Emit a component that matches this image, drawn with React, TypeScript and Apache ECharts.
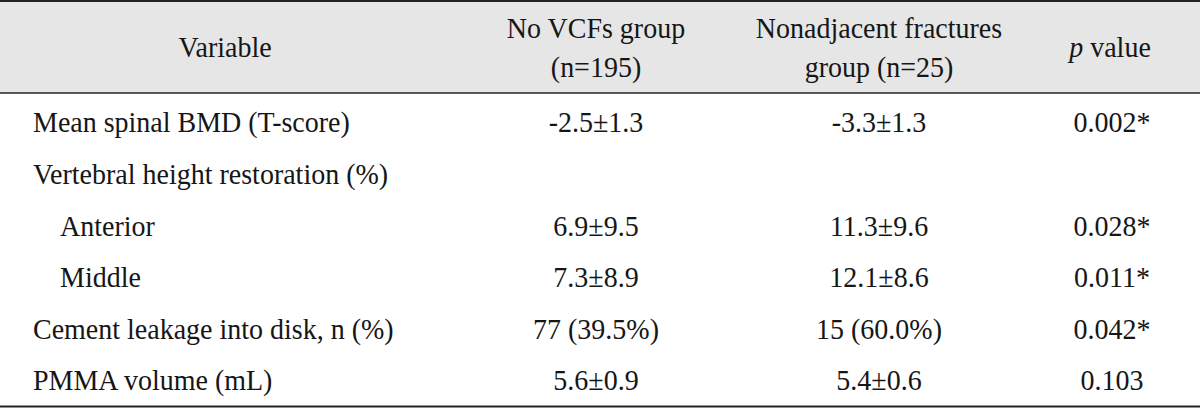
import React, { useEffect, useRef } from "react";
import * as echarts from "echarts";

const headerCol1 = "Variable";
const headerCol2 = ["No VCFs group", "(n=195)"];
const headerCol3 = ["Nonadjacent fractures", "group (n=25)"];
const variables = [
  "Mean spinal BMD (T-score)",
  "Vertebral height restoration (%)",
  "Anterior",
  "Middle",
  "Cement leakage into disk, n (%)",
  "PMMA volume (mL)",
];
const indented = [false, false, true, true, false, false];
const noVcfsGroup = ["-2.5±1.3", "", "6.9±9.5", "7.3±8.9", "77 (39.5%)", "5.6±0.9"];
const nonadjacentGroup = ["-3.3±1.3", "", "11.3±9.6", "12.1±8.6", "15 (60.0%)", "5.4±0.6"];
const pValues = ["0.002*", "", "0.028*", "0.011*", "0.042*", "0.103"];

const FONT = "'Liberation Serif', 'Times New Roman', serif";
const COLOR = "#161616";

export default function App() {
  const ref = useRef<HTMLDivElement>(null);
  useEffect(() => {
    if (!ref.current) return;
    const chart = echarts.init(ref.current, null, { renderer: "svg" });
    const fs = 28;
    const sy = 1.08;
    const txt = (text: string, x: number, y: number, align: string, extra: any = {}) => ({
      type: "text",
      x,
      y,
      scaleY: sy,
      style: {
        text,
        fill: COLOR,
        font: `${fs}px ${FONT}`,
        textAlign: align,
        textVerticalAlign: "middle",
        ...extra,
      },
    });
    const els: any[] = [];
    els.push({ type: "rect", shape: { x: 0, y: 0, width: 1200, height: 93 }, style: { fill: "#e6e6e6" } });
    els.push({ type: "line", shape: { x1: 0, y1: 1, x2: 1200, y2: 1 }, style: { stroke: "#222", lineWidth: 2 } });
    els.push({ type: "line", shape: { x1: 0, y1: 93, x2: 1200, y2: 93 }, style: { stroke: "#222", lineWidth: 1.5 } });
    els.push({ type: "line", shape: { x1: 0, y1: 406.5, x2: 1200, y2: 406.5 }, style: { stroke: "#222", lineWidth: 2 } });

    const c1 = 225, c2 = 596, c3 = 879, c4 = 1110;
    els.push(txt(headerCol1, c1, 47, "center"));
    els.push(txt(headerCol2[0], c2, 28, "center"));
    els.push(txt(headerCol2[1], c2, 67, "center"));
    els.push(txt(headerCol3[0], c3, 28, "center"));
    els.push(txt(headerCol3[1], c3, 67, "center"));
    els.push({
      type: "text",
      x: c4,
      y: 47,
      scaleY: sy,
      style: {
        text: "{i|p} value",
        fill: COLOR,
        font: `${fs}px ${FONT}`,
        textAlign: "center",
        textVerticalAlign: "middle",
        rich: {
          i: { fontStyle: "italic", fontSize: fs, fontFamily: FONT, fill: COLOR },
        },
      },
    });

    variables.forEach((v, i) => {
      const y = 122 + i * 51.6;
      els.push(txt(v, indented[i] ? 60 : 33, y, "left"));
      if (noVcfsGroup[i]) els.push(txt(noVcfsGroup[i], c2, y, "center"));
      if (nonadjacentGroup[i]) els.push(txt(nonadjacentGroup[i], c3, y, "center"));
      if (pValues[i]) els.push(txt(pValues[i], 1112, y, "center"));
    });

    chart.setOption({ animation: false, graphic: { elements: els } });
    return () => chart.dispose();
  }, []);
  return (
    <div
      ref={ref}
      style={{ position: "fixed", left: 0, top: 0, width: 1200, height: 408, background: "#fff" }}
    />
  );
}
